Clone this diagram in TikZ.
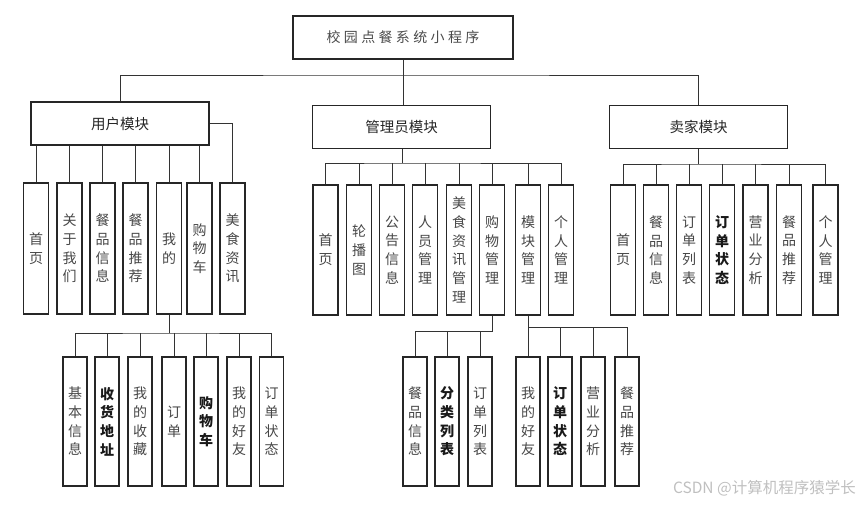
\documentclass[tikz,border=0pt]{standalone}
\usepackage{fontspec}
\newfontfamily\cjk{Noto Sans CJK SC}
\newfontfamily\cjkls{Noto Sans CJK SC}[LetterSpace=24]
\begin{document}
\begin{tikzpicture}[x=1pt,y=-1pt,
  box/.style={draw=black!85, line width=1.1pt, inner sep=0pt, fill=white},
  modbox/.style={box, minimum width=178pt, minimum height=43pt, font=\cjk\fontsize{14.5}{16}\selectfont, text=black!85},
  leaf/.style={box, minimum width=25pt, minimum height=130pt, align=center, font=\cjk\fontsize{14}{18.7}\selectfont, text=black!72},
  subleaf/.style={leaf, minimum width=24pt, minimum height=129pt},
  strong/.style={font=\cjk\bfseries\fontsize{14}{18.7}\selectfont, text=black!90},
  link/.style={draw=black!80, line width=0.8pt}]
\useasboundingbox (0,0) rectangle (860,505);

% top
\node[box, minimum width=220pt, minimum height=43pt, font=\cjkls\fontsize{14}{16}\selectfont, text=black!70] (top) at (403,37.5) {校园点餐系统小程序};

% modules
\node[modbox] (user) at (120,123.5) {用户模块};
\node[modbox] (admin) at (401.5,127) {管理员模块};
\node[modbox] (seller) at (698.5,127) {卖家模块};

% user children
\node[leaf, minimum height=131pt] (u1) at (36,248.5) {首\\页};
\node[leaf, minimum height=131pt] (u2) at (69.5,248.5) {关\\于\\我\\们};
\node[leaf, minimum height=131pt] (u3) at (102.5,248.5) {餐\\品\\信\\息};
\node[leaf, minimum height=131pt] (u4) at (135.5,248.5) {餐\\品\\推\\荐};
\node[leaf, minimum height=131pt] (u5) at (169,248.5) {我\\的};
\node[leaf, minimum height=131pt] (u6) at (199.5,248.5) {购\\物\\车};
\node[leaf, minimum height=131pt] (u7) at (232.5,248.5) {美\\食\\资\\讯};

% admin children
\node[leaf] (a1) at (325.5,250) {首\\页};
\node[leaf] (a2) at (359,250) {轮\\播\\图};
\node[leaf] (a3) at (392,250) {公\\告\\信\\息};
\node[leaf] (a4) at (425,250) {人\\员\\管\\理};
\node[leaf] (a5) at (459,250) {美\\食\\资\\讯\\管\\理};
\node[leaf] (a6) at (492,250) {购\\物\\管\\理};
\node[leaf] (a7) at (528,250) {模\\块\\管\\理};
\node[leaf] (a8) at (561,250) {个\\人\\管\\理};

% seller children
\node[leaf] (e1) at (623,250) {首\\页};
\node[leaf] (e2) at (656,250) {餐\\品\\信\\息};
\node[leaf] (e3) at (689,250) {订\\单\\列\\表};
\node[leaf, strong] (e4) at (722,250) {订\\单\\状\\态};
\node[leaf] (e5) at (755.5,250) {营\\业\\分\\析};
\node[leaf] (e6) at (789,250) {餐\\品\\推\\荐};
\node[leaf] (e7) at (825.5,250) {个\\人\\管\\理};

% user sub children
\node[subleaf] (s1) at (75,421.5) {基\\本\\信\\息};
\node[subleaf, strong] (s2) at (107,421.5) {收\\货\\地\\址};
\node[subleaf] (s3) at (140,421.5) {我\\的\\收\\藏};
\node[subleaf] (s4) at (174,421.5) {订\\单};
\node[subleaf, strong] (s5) at (206,421.5) {购\\物\\车};
\node[subleaf] (s6) at (239,421.5) {我\\的\\好\\友};
\node[subleaf] (s7) at (271.5,421.5) {订\\单\\状\\态};

% admin sub children
\node[subleaf] (p1) at (415,421.5) {餐\\品\\信\\息};
\node[subleaf, strong] (p2) at (447,421.5) {分\\类\\列\\表};
\node[subleaf] (p3) at (480,421.5) {订\\单\\列\\表};
\node[subleaf] (q1) at (528,421.5) {我\\的\\好\\友};
\node[subleaf, strong] (q2) at (560,421.5) {订\\单\\状\\态};
\node[subleaf] (q3) at (593,421.5) {营\\业\\分\\析};
\node[subleaf] (q4) at (627,421.5) {餐\\品\\推\\荐};

% connectors: top level
\coordinate (b0) at (403,75);
\draw[link] (top.south) -- (b0);
\draw[link] (user.north) |- (b0) -| (seller.north);
\draw[link] (b0) -- (b0 |- admin.north);

% user
\foreach \i in {1,...,6} \draw[link] (u\i.north) -- (u\i.north |- user.south);
\draw[link] (user.east) -| (u7.north);

% admin
\coordinate (ab) at (402,163);
\draw[link] (ab |- admin.south) -- (ab);
\draw[link] (a1.north) |- (ab) -| (a8.north);
\foreach \i in {2,...,7} \draw[link] (a\i.north) -- (a\i.north |- ab);

% seller
\coordinate (sb) at (698.5,164);
\draw[link] (seller.south) -- (sb);
\draw[link] (e1.north) |- (sb) -| (e7.north);
\foreach \i in {2,...,6} \draw[link] (e\i.north) -- (e\i.north |- sb);

% user sub
\coordinate (ub) at (169,333);
\draw[link] (u5.south) -- (u5.south |- ub);
\draw[link] (s1.north) |- (ub) -| (s7.north);
\foreach \i in {2,...,6} \draw[link] (s\i.north) -- (s\i.north |- ub);

% admin sub (shopping)
\coordinate (pb) at (492,331);
\draw[link] (a6.south) -- (a6.south |- pb) -| (p1.north);
\foreach \i in {2,3} \draw[link] (p\i.north) -- (p\i.north |- pb);

% admin sub (modules)
\coordinate (qb) at (528,327);
\draw[link] (a7.south) -- (q1.north);
\draw[link] (a7.south |- qb) -| (q4.north);
\foreach \i in {2,3} \draw[link] (q\i.north) -- (q\i.north |- qb);

% watermark
\node[anchor=east, inner sep=0pt, text=black!25, font=\cjk\fontsize{15.5}{17}\selectfont] (wm) at (856,488) {CSDN @计算机程序猿学长};
\end{tikzpicture}
\end{document}
